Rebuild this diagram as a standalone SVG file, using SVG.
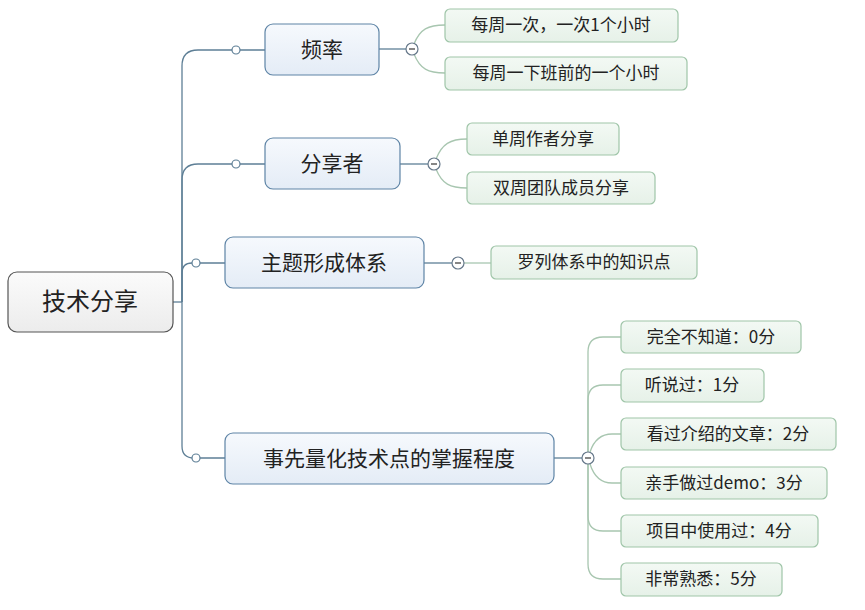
<svg xmlns="http://www.w3.org/2000/svg" width="865" height="610" viewBox="0 0 865 610">
<defs>
<linearGradient id="gMain" x1="0" y1="0" x2="0" y2="1"><stop offset="0" stop-color="#f6f9fd"/><stop offset="1" stop-color="#e4ecf6"/></linearGradient>
<linearGradient id="gChild" x1="0" y1="0" x2="0" y2="1"><stop offset="0" stop-color="#f3f9f4"/><stop offset="1" stop-color="#e6f1e8"/></linearGradient>
<linearGradient id="gRoot" x1="0" y1="0" x2="0" y2="1"><stop offset="0" stop-color="#fbfbfb"/><stop offset="1" stop-color="#ececec"/></linearGradient>
</defs>
<style>
text{font-family:"Noto Sans CJK SC","Noto Sans",sans-serif;fill:#222;text-anchor:middle}
.root rect{fill:url(#gRoot);stroke:#555;stroke-width:1.2}
.main rect{fill:url(#gMain);stroke:#5e84a6;stroke-width:1.2}
.child rect{fill:url(#gChild);stroke:#9fc5a8;stroke-width:1.2}
.root text{font-size:24px}
.main text{font-size:21px}
.child text{font-size:17px}
.c1{fill:none;stroke:#5e7f96;stroke-width:1.3}
.c2{fill:none;stroke:#a8c6b0;stroke-width:1.3}
.dot{fill:#fff;stroke:#5e7f96;stroke-width:1.2}
.minus circle{fill:#fff;stroke:#66788a;stroke-width:1.2}
.minus line{stroke:#444;stroke-width:1.3}
</style>
<g id="connectors">
<path class="c1" d="M173,302 H182"/>
<path class="c1" d="M182,302 V66 Q182,50 198,50 H265"/>
<path class="c1" d="M182,302 V180 Q182,164 198,164 H265"/>
<path class="c1" d="M182,302 V273 Q182,263 192,263 H225"/>
<path class="c1" d="M182,302 V446 Q182,458 194,458 H225"/>
<circle class="dot" cx="236" cy="50" r="4"/>
<circle class="dot" cx="236" cy="164" r="4"/>
<circle class="dot" cx="196" cy="263" r="4"/>
<circle class="dot" cx="196" cy="458" r="4"/>
<path class="c1" d="M379,49 H406"/>
<path class="c1" d="M400,164 H428"/>
<path class="c1" d="M424,263 H452"/>
<path class="c1" d="M554,458 H582"/>
<path class="c2" d="M414,44 C420,29 428,25 445,25"/>
<path class="c2" d="M414,54 C420,69 428,73 445,73"/>
<path class="c2" d="M436,159 C442,144 450,139 467,139"/>
<path class="c2" d="M436,169 C442,184 450,188 467,188"/>
<path class="c2" d="M464,263 H491"/>
<path class="c2" d="M588,452 V352 Q588,337 603,337 H621"/>
<path class="c2" d="M588,452 V400 Q588,385 603,385 H621"/>
<path class="c2" d="M590,452 Q596,434 612,434 H621"/>
<path class="c2" d="M590,464 Q596,483 612,483 H621"/>
<path class="c2" d="M588,464 V516 Q588,531 603,531 H621"/>
<path class="c2" d="M588,464 V564 Q588,579 603,579 H621"/>
<g class="minus"><circle cx="412" cy="49" r="6"/><line x1="409" y1="49" x2="415" y2="49"/></g>
<g class="minus"><circle cx="434" cy="164" r="6"/><line x1="431" y1="164" x2="437" y2="164"/></g>
<g class="minus"><circle cx="458" cy="263" r="6"/><line x1="455" y1="263" x2="461" y2="263"/></g>
<g class="minus"><circle cx="588" cy="458" r="6"/><line x1="585" y1="458" x2="591" y2="458"/></g>
</g>
<g id="root" class="root"><rect x="8" y="272" width="165" height="60" rx="9"/><text x="90" y="310">技术分享</text></g>
<g id="n-pinlv" class="main"><rect x="265" y="24" width="114" height="51" rx="8"/><text x="322" y="57">频率</text></g>
<g id="n-fenxiangzhe" class="main"><rect x="265" y="138" width="135" height="51" rx="8"/><text x="332" y="171">分享者</text></g>
<g id="n-zhuti" class="main"><rect x="225" y="237" width="199" height="51" rx="8"/><text x="324" y="270">主题形成体系</text></g>
<g id="n-lianghua" class="main"><rect x="225" y="433" width="329" height="51" rx="8"/><text x="389" y="466">事先量化技术点的掌握程度</text></g>
<g id="c-1" class="child"><rect x="445" y="9" width="233" height="33" rx="5"/><text x="561" y="31">每周一次，一次1个小时</text></g>
<g id="c-2" class="child"><rect x="445" y="57" width="242" height="33" rx="5"/><text x="566" y="79">每周一下班前的一个小时</text></g>
<g id="c-3" class="child"><rect x="467" y="123" width="152" height="32" rx="5"/><text x="543" y="145">单周作者分享</text></g>
<g id="c-4" class="child"><rect x="467" y="172" width="188" height="32" rx="5"/><text x="561" y="194">双周团队成员分享</text></g>
<g id="c-5" class="child"><rect x="491" y="246" width="206" height="33" rx="5"/><text x="594" y="268">罗列体系中的知识点</text></g>
<g id="c-6" class="child"><rect x="621" y="321" width="180" height="32" rx="5"/><text x="711" y="343">完全不知道：0分</text></g>
<g id="c-7" class="child"><rect x="621" y="369" width="143" height="33" rx="5"/><text x="692" y="391">听说过：1分</text></g>
<g id="c-8" class="child"><rect x="621" y="418" width="215" height="32" rx="5"/><text x="728" y="440">看过介绍的文章：2分</text></g>
<g id="c-9" class="child"><rect x="621" y="467" width="206" height="32" rx="5"/><text x="724" y="489">亲手做过demo：3分</text></g>
<g id="c-10" class="child"><rect x="621" y="515" width="197" height="32" rx="5"/><text x="719" y="537">项目中使用过：4分</text></g>
<g id="c-11" class="child"><rect x="621" y="563" width="161" height="33" rx="5"/><text x="701" y="585">非常熟悉：5分</text></g>
</svg>
